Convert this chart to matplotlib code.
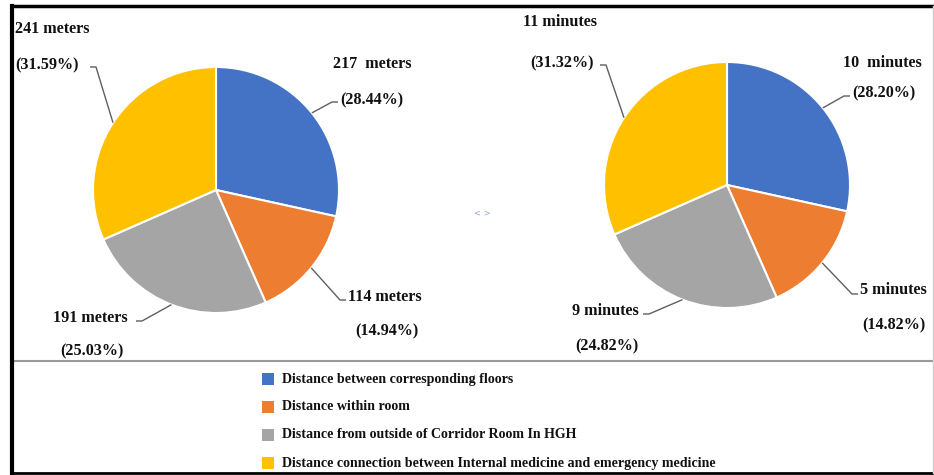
import matplotlib.pyplot as plt
from matplotlib.patches import Rectangle
import numpy as np

# slice order: floors, within room, corridor, internal/emergency connection
categories = ["Distance between corresponding floors",
              "Distance within room",
              "Distance from outside of Corridor Room In HGH",
              "Distance connection between Internal medicine and emergency medicine"]
colors = ["#4472C4", "#ED7D31", "#A5A5A5", "#FFC000"]

dist_labels = ["217  meters", "114 meters", "191 meters", "241 meters"]
dist_pct = [28.44, 14.94, 25.03, 31.59]

time_labels = ["10  minutes", "5 minutes", "9 minutes", "11 minutes"]
time_pct = [28.20, 14.82, 24.82, 31.32]

W, H = 934, 475
fig = plt.figure(figsize=(W / 100, H / 100), dpi=100)
ax = fig.add_axes([0, 0, 1, 1])
ax.set_xlim(0, W)
ax.set_ylim(0, H)
ax.axis("off")

font = dict(family="Liberation Serif", fontweight="bold", fontsize=11.6, color="#111111")
R = 123


def draw_pie(cx, cy, pct, names, spots):
    # cy given from the top edge, flip to axes coords
    wedges, _ = ax.pie(pct, colors=colors, startangle=90, counterclock=False,
                       center=(cx, H - cy), radius=R, frame=True,
                       wedgeprops=dict(edgecolor="white", linewidth=1.5))
    for w, name, p, (nx, ny, px, py, lx, ly) in zip(wedges, names, pct, spots):
        mid = np.deg2rad((w.theta1 + w.theta2) / 2)
        ex = cx + R * np.cos(mid)
        ey = cy - R * np.sin(mid)
        ax.text(nx, H - ny, name, ha="left", va="center", **font)
        ax.text(px, H - py, "(%.2f%%)" % p, ha="left", va="center", **font)
        # leader line with a short flat tail next to the label
        tail = 6 if lx > ex else -6
        ax.plot([ex, lx - tail, lx], [H - ey, H - ly, H - ly],
                color="#5F5F5F", lw=1, solid_capstyle="butt")
    return wedges


# name x/y, percent x/y, leader end x/y
dist_spots = [(333, 64, 340, 100, 338, 102),
              (348, 297, 355, 331, 346, 300),
              (53, 318, 60, 351, 136, 321),
              (15, 29, 15, 65, 90, 67)]
time_spots = [(843, 63, 852, 93, 850, 96),
              (860, 290, 862, 325, 858, 294),
              (572, 311, 575, 346, 643, 314),
              (523, 22, 530, 63, 600, 65)]

draw_pie(216, 190, dist_pct, dist_labels, dist_spots)
draw_pie(727, 185, time_pct, time_labels, time_spots)
ax.set_xlim(0, W)
ax.set_ylim(0, H)
ax.set_aspect("auto")

ax.text(482, H - 213, "< >", ha="center", va="center", fontsize=6,
        family="DejaVu Sans", color="#8FA8D8")

# legend block
for i, (c, name) in enumerate(zip(colors, categories)):
    y = 379 + 28 * i
    ax.add_patch(Rectangle((262, H - y - 6), 12, 12, facecolor=c, edgecolor="none"))
    ax.text(282, H - y, name, ha="left", va="center",
            family="Liberation Serif", fontweight="bold", fontsize=10.1, color="#111111")

# frame and divider
ax.plot([13, W], [H - 361, H - 361], color="#9A9A9A", lw=1.5)
ax.plot([12, 12], [H - 6, H - 473], color="black", lw=3, solid_capstyle="projecting")
ax.plot([12, W], [H - 6, H - 6], color="black", lw=2.5)
ax.plot([12, W], [H - 473, H - 473], color="black", lw=2)
ax.plot([W - 1.5, W - 1.5], [H - 6, H - 473], color="#CFCFCF", lw=1)

fig.savefig("out.png", dpi=100)
